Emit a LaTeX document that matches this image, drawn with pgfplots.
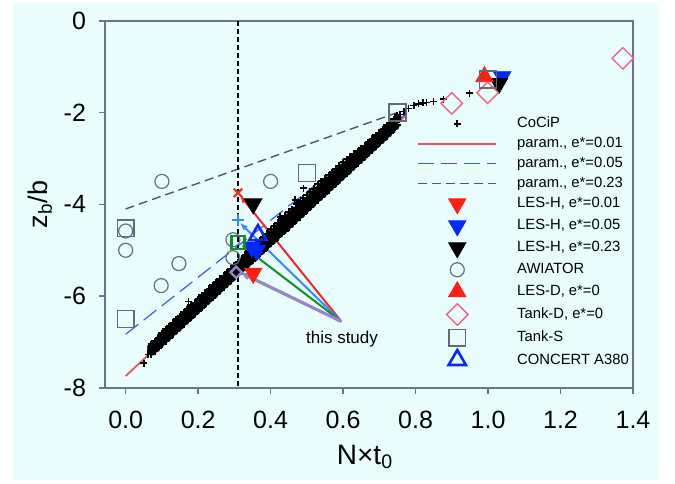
\documentclass[border=0pt]{standalone}
\usepackage{pgfplots}
\pgfplotsset{compat=1.18}
\usepackage{fontspec}
\setmainfont{Liberation Sans}
\usetikzlibrary{arrows.meta}
\definecolor{bgcyan}{RGB}{233,253,253}
\definecolor{axisgrey}{RGB}{110,115,135}
\definecolor{lesred}{RGB}{255,30,20}
\definecolor{lesblue}{RGB}{0,40,255}
\definecolor{parampink}{RGB}{240,80,100}
\definecolor{paramblue}{RGB}{60,90,255}
\definecolor{paramgrey}{RGB}{85,85,100}
\definecolor{awigrey}{RGB}{100,110,130}
\definecolor{tankpink}{RGB}{240,100,130}
\definecolor{tankgrey}{RGB}{100,105,120}
\definecolor{concertblue}{RGB}{10,40,240}
\definecolor{arrred}{RGB}{240,40,40}
\definecolor{arrblue}{RGB}{50,140,255}
\definecolor{arrgreen}{RGB}{20,140,40}
\definecolor{arrpurple}{RGB}{150,135,200}

\begin{document}
\begin{tikzpicture}
\useasboundingbox (0,0) rectangle (337.5pt,241.5pt);
\fill[white] (0,0) rectangle (337.5pt,241.5pt);
\fill[bgcyan] (6.5pt,1.5pt) rectangle (329pt,240pt);
\begin{axis}[
  at={(52.5pt,47.5pt)}, anchor=south west,
  scale only axis, width=264pt, height=183.65pt,
  xmin=-0.057, xmax=1.4, ymin=-8, ymax=0,
  clip=false,
  xtick={0,0.2,0.4,0.6,0.8,1.0,1.2,1.4},
  ytick={-8,-6,-4,-2,0},
  axis line style={draw=axisgrey, line width=1pt},
  tick style={draw=axisgrey, line width=0.8pt},
  tick align=outside, tick pos=left, major tick length=3pt,
  /pgf/number format/assume math mode=true,
  yticklabel style={font=\fontsize{12.5}{14}\selectfont, xshift=-3pt},
  xticklabel style={font=\fontsize{12.5}{14}\selectfont, yshift=-5pt,
    /pgf/number format/.cd, fixed, fixed zerofill, precision=1},
  xlabel={N×t\textsubscript{0}},
  ylabel={z\textsubscript{b}/b},
  xlabel style={font=\fontsize{14}{16}\selectfont, at={(axis description cs:0.4925,-0.136)}, anchor=north},
  ylabel style={font=\fontsize{13.5}{16}\selectfont, at={(axis description cs:-0.123,0.5)}, anchor=center},
  legend style={at={(axis cs:0.805,-2.07)}, anchor=north west,
    draw=none, fill=none, inner sep=0pt, outer sep=0pt,
    font=\fontsize{7.4}{8.5}\selectfont,
    row sep=2pt, column sep=10pt,
    nodes={inner sep=0pt, text height=6pt, text depth=2pt}},
  legend cell align=left,
  legend image code/.code={\draw[mark repeat=2,mark phase=2,#1] plot coordinates {(0pt,0pt) (19.5pt,0pt) (39pt,0pt)};},
  cocip/.style={only marks, mark=+, mark size=1.7pt, line width=1pt, black},
  cocipdot/.style={only marks, mark=*, mark size=1.7pt, draw=black, fill=black},
]
% CoCiP (dense band)
\addplot[cocip] coordinates {
(0.07,-7.27)(0.08,-7.20)(0.09,-7.12)(0.10,-7.05)(0.11,-6.98)(0.12,-6.90)(0.13,-6.83)(0.14,-6.76)(0.15,-6.69)(0.16,-6.61)
(0.17,-6.54)(0.18,-6.47)(0.19,-6.39)(0.20,-6.32)(0.21,-6.25)(0.22,-6.17)(0.23,-6.10)(0.24,-6.03)(0.25,-5.96)(0.26,-5.88)
(0.27,-5.81)(0.28,-5.74)(0.29,-5.66)(0.30,-5.59)(0.31,-5.52)(0.32,-5.44)(0.33,-5.37)(0.34,-5.30)(0.35,-5.23)(0.36,-5.15)
(0.37,-5.08)(0.38,-5.01)(0.39,-4.93)(0.40,-4.86)(0.41,-4.79)(0.42,-4.71)(0.43,-4.64)(0.44,-4.57)(0.45,-4.50)(0.46,-4.42)
(0.47,-4.35)(0.48,-4.28)(0.49,-4.20)(0.50,-4.13)(0.51,-4.06)(0.52,-3.98)(0.53,-3.91)(0.54,-3.84)(0.55,-3.77)(0.56,-3.69)
(0.57,-3.62)(0.58,-3.55)(0.59,-3.47)(0.60,-3.40)(0.61,-3.33)(0.62,-3.25)(0.63,-3.18)(0.64,-3.11)(0.65,-3.04)(0.66,-2.96)
(0.67,-2.89)(0.68,-2.82)(0.69,-2.74)(0.70,-2.67)(0.71,-2.60)(0.72,-2.52)(0.73,-2.44)(0.74,-2.36)(0.75,-2.28)};
\addlegendentry{CoCiP}
\addplot[cocipdot, forget plot] coordinates {
(0.07,-7.15)(0.08,-7.08)(0.09,-7.00)(0.10,-6.93)(0.11,-6.86)(0.12,-6.78)(0.13,-6.71)(0.14,-6.64)(0.15,-6.57)(0.16,-6.49)
(0.17,-6.42)(0.18,-6.35)(0.19,-6.27)(0.20,-6.20)(0.21,-6.13)(0.22,-6.05)(0.23,-5.98)(0.24,-5.91)(0.25,-5.84)(0.26,-5.76)
(0.27,-5.69)(0.28,-5.62)(0.29,-5.54)(0.30,-5.47)(0.31,-5.40)(0.32,-5.32)(0.33,-5.25)(0.34,-5.18)(0.35,-5.11)(0.36,-5.03)
(0.37,-4.96)(0.38,-4.89)(0.39,-4.81)(0.40,-4.74)(0.41,-4.67)(0.42,-4.59)(0.43,-4.52)(0.44,-4.45)(0.45,-4.38)(0.46,-4.30)
(0.47,-4.23)(0.48,-4.16)(0.49,-4.08)(0.50,-4.01)(0.51,-3.94)(0.52,-3.86)(0.53,-3.79)(0.54,-3.72)(0.55,-3.65)(0.56,-3.57)
(0.57,-3.50)(0.58,-3.43)(0.59,-3.35)(0.60,-3.28)(0.61,-3.21)(0.62,-3.13)(0.63,-3.06)(0.64,-2.99)(0.65,-2.92)(0.66,-2.84)
(0.67,-2.77)(0.68,-2.70)(0.69,-2.62)(0.70,-2.55)(0.71,-2.48)(0.72,-2.40)(0.73,-2.32)(0.74,-2.24)(0.75,-2.16)};
\addplot[cocipdot, forget plot] coordinates {
(0.075,-7.21)(0.085,-7.14)(0.095,-7.06)(0.105,-6.99)(0.115,-6.92)(0.125,-6.84)(0.135,-6.77)(0.145,-6.70)(0.155,-6.63)(0.165,-6.55)
(0.175,-6.48)(0.185,-6.41)(0.195,-6.33)(0.205,-6.26)(0.215,-6.19)(0.225,-6.11)(0.235,-6.04)(0.245,-5.97)(0.255,-5.90)(0.265,-5.82)
(0.275,-5.75)(0.285,-5.68)(0.295,-5.60)(0.305,-5.53)(0.315,-5.46)(0.325,-5.38)(0.335,-5.31)(0.345,-5.24)(0.355,-5.17)(0.365,-5.09)
(0.375,-5.02)(0.385,-4.95)(0.395,-4.87)(0.405,-4.80)(0.415,-4.73)(0.425,-4.65)(0.435,-4.58)(0.445,-4.51)(0.455,-4.44)(0.465,-4.36)
(0.475,-4.29)(0.485,-4.22)(0.495,-4.14)(0.505,-4.07)(0.515,-4.00)(0.525,-3.92)(0.535,-3.85)(0.545,-3.78)(0.555,-3.71)(0.565,-3.63)
(0.575,-3.56)(0.585,-3.49)(0.595,-3.41)(0.605,-3.34)(0.615,-3.27)(0.625,-3.19)(0.635,-3.12)(0.645,-3.05)(0.655,-2.98)(0.665,-2.90)
(0.675,-2.83)(0.685,-2.76)(0.695,-2.68)(0.705,-2.61)(0.715,-2.54)(0.725,-2.46)(0.735,-2.38)(0.745,-2.30)};
\addplot[cocipdot, forget plot] coordinates {
(0.07,-7.10)(0.08,-7.03)(0.09,-6.95)(0.10,-6.87)(0.11,-6.79)(0.12,-6.72)(0.13,-6.65)(0.14,-6.57)(0.15,-6.51)(0.16,-6.42)
(0.17,-6.35)(0.18,-6.28)(0.19,-6.21)(0.20,-6.13)(0.21,-6.06)(0.22,-5.99)(0.23,-5.91)(0.24,-5.84)(0.25,-5.77)(0.26,-5.69)
(0.27,-5.62)(0.28,-5.55)(0.29,-5.47)(0.30,-5.40)(0.31,-5.33)(0.32,-5.25)(0.33,-5.18)(0.34,-5.10)(0.35,-5.03)(0.36,-4.96)
(0.37,-4.87)(0.38,-4.81)(0.39,-4.73)(0.40,-4.64)(0.41,-4.58)(0.42,-4.50)(0.43,-4.41)(0.44,-4.35)(0.45,-4.27)(0.46,-4.20)
(0.47,-4.12)(0.48,-4.06)(0.49,-3.97)(0.50,-3.91)(0.51,-3.83)(0.52,-3.76)(0.53,-3.68)(0.54,-3.61)(0.55,-3.55)(0.56,-3.47)
(0.57,-3.40)(0.58,-3.33)(0.59,-3.26)(0.60,-3.18)(0.61,-3.12)(0.62,-3.05)(0.63,-2.98)(0.64,-2.92)(0.65,-2.85)(0.66,-2.78)
(0.67,-2.71)(0.68,-2.64)(0.69,-2.56)(0.70,-2.50)(0.71,-2.42)(0.72,-2.34)(0.73,-2.27)(0.74,-2.19)(0.75,-2.11)};
\addplot[cocip, forget plot] coordinates {
(0.07,-7.05)(0.08,-6.98)(0.09,-6.90)(0.10,-6.80)(0.11,-6.72)(0.12,-6.66)(0.13,-6.58)(0.14,-6.50)(0.15,-6.44)(0.16,-6.35)
(0.17,-6.28)(0.18,-6.20)(0.19,-6.14)(0.20,-6.06)(0.21,-5.98)(0.22,-5.92)(0.23,-5.84)(0.24,-5.76)(0.25,-5.70)(0.26,-5.62)
(0.27,-5.55)(0.28,-5.48)(0.29,-5.40)(0.30,-5.33)(0.31,-5.26)(0.32,-5.18)(0.33,-5.10)(0.34,-5.02)(0.35,-4.95)(0.36,-4.88)
(0.37,-4.78)(0.38,-4.72)(0.39,-4.64)(0.40,-4.54)(0.41,-4.48)(0.42,-4.40)(0.43,-4.30)(0.44,-4.25)(0.45,-4.16)(0.46,-4.10)
(0.47,-4.00)(0.48,-3.95)(0.49,-3.86)(0.50,-3.80)(0.51,-3.72)(0.52,-3.66)(0.53,-3.56)(0.54,-3.50)(0.55,-3.44)(0.56,-3.36)
(0.57,-3.30)(0.58,-3.22)(0.59,-3.16)(0.60,-3.08)(0.61,-3.02)(0.62,-2.96)(0.63,-2.90)(0.64,-2.84)(0.65,-2.78)(0.66,-2.72)
(0.67,-2.64)(0.68,-2.57)(0.69,-2.50)(0.70,-2.44)(0.71,-2.36)(0.72,-2.28)(0.73,-2.22)(0.74,-2.14)(0.75,-2.06)};
\addplot[cocip, line width=0.8pt, forget plot] coordinates {
(0.05,-7.46) (0.062,-7.27) (0.068,-7.20) (0.173,-6.12) (0.426,-4.27) (0.468,-3.9) (0.491,-3.65)
(0.757,-2.04) (0.768,-1.98) (0.78,-1.91) (0.795,-1.85) (0.808,-1.81) (0.82,-1.79) (0.83,-1.78)
(0.85,-1.76) (0.877,-1.71) (0.949,-1.58)};
% param lines
\addplot[parampink, line width=0.9pt] coordinates {(0,-7.74) (0.77,-2.08)};
\addlegendentry{param., e*=0.01}
\addplot[paramblue, line width=0.6pt, dash pattern=on 8pt off 3.5pt] coordinates {(0,-6.83) (0.77,-2.05)};
\addlegendentry{param., e*=0.05}
\addplot[paramgrey, line width=0.7pt, dash pattern=on 4.5pt off 2.5pt] coordinates {(0,-4.1) (0.75,-2.0)};
\addlegendentry{param., e*=0.23}
% vertical dashed line
\addplot[black, line width=1.1pt, dash pattern=on 2.5pt off 1.5pt, forget plot] coordinates {(0.31,0) (0.31,-8)};
% LES-H
\addplot[only marks, mark=triangle*, mark size=5pt, lesred, mark options={rotate=180, fill=lesred, draw=lesred}] coordinates {(0.352,-5.50)};
\addlegendentry{LES-H, e*=0.01}
\addplot[only marks, mark=triangle*, mark size=5pt, lesblue, mark options={rotate=180, fill=lesblue, draw=lesblue}] coordinates {(0.348,-4.93) (0.362,-5.0) (1.039,-1.22)};
\addlegendentry{LES-H, e*=0.05}
\addplot[only marks, mark=triangle*, mark size=5pt, black, mark options={rotate=180, fill=black, draw=black}] coordinates {(0.352,-3.99) (1.03,-1.37)};
\addlegendentry{LES-H, e*=0.23}
% AWIATOR
\addplot[only marks, mark=o, mark size=3.5pt, awigrey, line width=0.6pt] coordinates {
(0.1,-3.5) (0.4,-3.5) (0,-4.58) (0,-5.0) (0.147,-5.29) (0.098,-5.77) (0.296,-4.77) (0.296,-5.16)};
\addlegendentry{AWIATOR}
% LES-D
\addplot[only marks, mark=triangle*, mark size=5pt, lesred, mark options={fill=lesred, draw=lesred}] coordinates {(0.99,-1.22)};
\addlegendentry{LES-D, e*=0}
% Tank-D
\addplot[only marks, mark=square, mark size=3.8pt, tankpink, line width=0.7pt, mark options={rotate=45}] coordinates {(0.9,-1.8) (0.999,-1.57) (1.372,-0.82)};
\addlegendentry{Tank-D, e*=0}
% Tank-S
\addplot[only marks, mark=square, mark size=4.2pt, tankgrey, line width=0.7pt] coordinates {(0,-4.52) (0,-6.5) (0.5,-3.32) (0.75,-2.0) (1.0,-1.28)};
\addlegendentry{Tank-S}
% CONCERT
\addplot[only marks, mark=triangle, mark size=5pt, concertblue, line width=1.3pt] coordinates {(0.365,-4.67)};
\addlegendentry{CONCERT A380}
% this study arrows
\addplot[arrred, line width=1pt, -{Latex[length=4pt,width=3pt]}, forget plot] coordinates {(0.595,-6.55) (0.315,-3.80)};
\addplot[arrblue, line width=1pt, -{Latex[length=4pt,width=3pt]}, forget plot] coordinates {(0.595,-6.55) (0.315,-4.40)};
\addplot[arrgreen, line width=1pt, -{Latex[length=4pt,width=3pt]}, forget plot] coordinates {(0.595,-6.55) (0.318,-4.88)};
\addplot[arrpurple, line width=1.6pt, -{Latex[length=5pt,width=4pt]}, forget plot] coordinates {(0.595,-6.55) (0.315,-5.48)};
% this study markers
\addplot[only marks, mark=x, mark size=3pt, arrred, line width=1pt, forget plot] coordinates {(0.31,-3.75)};
\addplot[only marks, mark=+, mark size=3pt, arrblue, line width=1pt, forget plot] coordinates {(0.31,-4.35)};
\addplot[only marks, mark=square, mark size=3.2pt, arrgreen, line width=1.2pt, forget plot] coordinates {(0.31,-4.83)};
\addplot[only marks, mark=square, mark size=2pt, arrpurple, line width=1.2pt, mark options={rotate=45}, forget plot] coordinates {(0.305,-5.48)};
\node[font=\fontsize{8.5}{10}\selectfont] at (axis cs:0.597,-6.94) {this study};
\end{axis}
\end{tikzpicture}
\end{document}
